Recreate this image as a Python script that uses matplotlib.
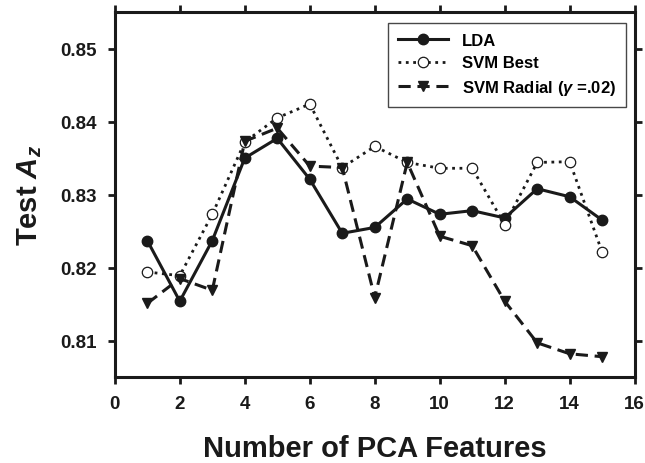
import matplotlib
matplotlib.use("Agg")
import matplotlib.pyplot as plt

features = [1, 2, 3, 4, 5, 6, 7, 8, 9, 10, 11, 12, 13, 14, 15]
lda = [0.8237, 0.8154, 0.8237, 0.8350, 0.8377, 0.8321, 0.8247, 0.8255,
       0.8294, 0.8273, 0.8278, 0.8268, 0.8308, 0.8297, 0.8265]
svm_best = [0.8194, 0.8189, 0.8273, 0.8372, 0.8405, 0.8424, 0.8337, 0.8366,
            0.8344, 0.8336, 0.8336, 0.8259, 0.8344, 0.8345, 0.8221]
svm_radial = [0.8151, 0.8185, 0.8169, 0.8373, 0.8391, 0.8339, 0.8337, 0.8159,
              0.8344, 0.8243, 0.8230, 0.8154, 0.8097, 0.8082, 0.8078]

plt.rcParams['font.family'] = ['Liberation Sans', 'DejaVu Sans']
plt.rcParams['font.weight'] = 'bold'
plt.rcParams['mathtext.fontset'] = 'custom'
plt.rcParams['mathtext.rm'] = 'Liberation Sans:bold'
plt.rcParams['mathtext.it'] = 'Liberation Sans:italic:bold'
plt.rcParams['mathtext.bf'] = 'Liberation Sans:bold'

fig = plt.figure(figsize=(6.45, 4.64), dpi=100)
ax = fig.add_axes([0.178, 0.185, 0.806, 0.787])

col = '#1a1a1a'
ax.plot(features, lda, '-', color=col, lw=2.2, marker='o', ms=7.5,
        mfc=col, mec=col, label='LDA')
ax.plot(features, svm_best, ':', color=col, lw=2.0, marker='o', ms=7.5,
        mfc='white', mec=col, mew=0.9, label='SVM Best')
ax.plot(features, svm_radial, color=col, lw=2.2, dashes=(4, 2.2),
        marker='v', ms=7.5, mfc=col, mec=col, label=r'SVM Radial ($\gamma$ =.02)')

ax.set_xlim(0, 16)
ax.set_ylim(0.805, 0.855)
ax.set_xticks(range(0, 17, 2))
ax.set_yticks([0.81, 0.82, 0.83, 0.84, 0.85])
ax.set_yticklabels(['0.81', '0.82', '0.83', '0.84', '0.85'])

for s in ax.spines.values():
    s.set_linewidth(2.2)
    s.set_color(col)
ax.tick_params(direction='out', length=5, width=2, top=True, right=True,
               labelsize=13.5, pad=8, colors=col)
for lab in ax.get_xticklabels() + ax.get_yticklabels():
    lab.set_fontweight('bold')

ax.set_xlabel('Number of PCA Features', fontsize=21, fontweight='bold',
              labelpad=16, color=col)
ax.set_ylabel(r'Test $A_z$', fontsize=21, fontweight='bold', labelpad=12,
              color=col)

leg = ax.legend(loc='upper right', bbox_to_anchor=(0.983, 0.970),
                frameon=True, fancybox=False, handlelength=3.0,
                handletextpad=0.8, borderpad=0.6, labelspacing=0.45,
                borderaxespad=0, prop={'weight': 'bold', 'size': 12})
leg.get_frame().set_edgecolor(col)
leg.get_frame().set_linewidth(1.0)

fig.savefig('out.png', dpi=100)
